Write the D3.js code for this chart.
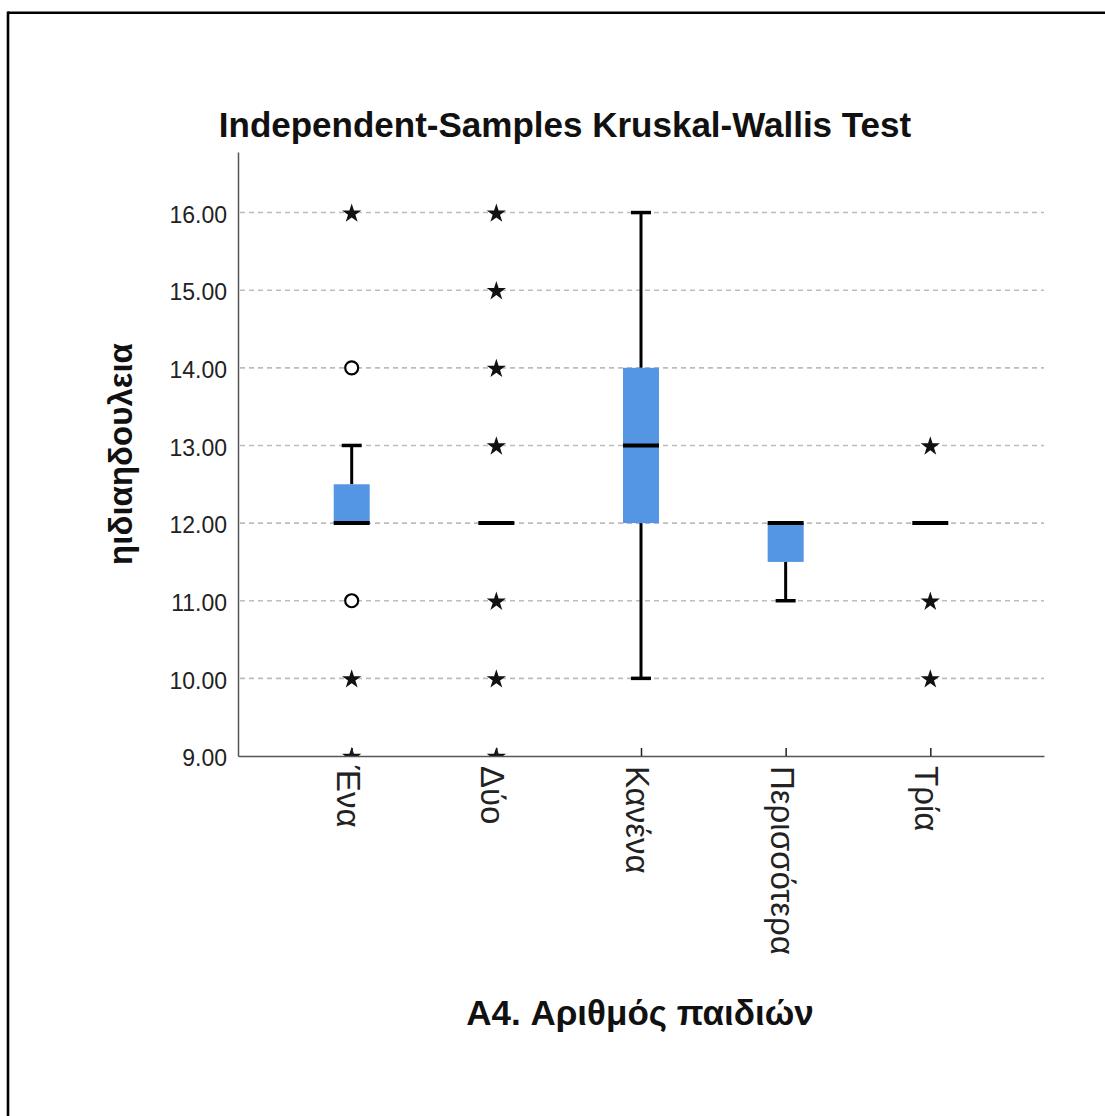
<!DOCTYPE html>
<html>
<head>
<meta charset="utf-8">
<script src="https://cdn.jsdelivr.net/npm/d3@7"></script>
<style>
  html, body { margin: 0; padding: 0; background: #fff; }
  svg { display: block; }
  text { font-family: "Liberation Sans", Arial, sans-serif; }
</style>
</head>
<body>
<script>
// ---- data ----
const categories = ["Ένα", "Δύο", "Κανένα", "Περισσότερα", "Τρία"];
const q1 = [12, 12, 12, 11.5, 12];
const medians = [12, 12, 13, 12, 12];
const q3 = [12.5, 12, 14, 12, 12];
const whiskerLow = [12, 12, 10, 11, 12];
const whiskerHigh = [13, 12, 16, 12, 12];
const outliers = [[14, 11], [], [], [], []];          // circles
const extremes = [[16, 10, 9], [16, 15, 14, 13, 11, 10, 9], [], [], [13, 11, 10]]; // stars
const yTicks = [9, 10, 11, 12, 13, 14, 15, 16];
const titleText = "Independent-Samples Kruskal-Wallis Test";
const yTitle = "ηιδιαηδουλεια";
const xTitle = "A4. Αριθμός παιδιών";

// ---- layout ----
const W = 1105, H = 1116;
const pLeft = 238, pRight = 1044, pTop = 152, pBottom = 756;

const svg = d3.select("body").append("svg").attr("width", W).attr("height", H);

// frame
svg.append("line").attr("x1", 8).attr("x2", W).attr("y1", 12.7).attr("y2", 12.7)
  .attr("stroke", "#000").attr("stroke-width", 2.6);
svg.append("line").attr("x1", 8).attr("x2", 8).attr("y1", 11.4).attr("y2", H)
  .attr("stroke", "#000").attr("stroke-width", 2.6);

const x = d3.scalePoint().domain(categories).range([pLeft, pRight]).padding(0.786);
const y = d3.scaleLinear().domain([9, 16.78]).range([pBottom, pTop]);

// gridlines
svg.append("g").selectAll("line").data(yTicks.filter(d => d > 9)).join("line")
  .attr("x1", pLeft + 2).attr("x2", pRight).attr("y1", d => y(d)).attr("y2", d => y(d))
  .attr("stroke", "#bdbdbd").attr("stroke-width", 1.6).attr("stroke-dasharray", "5,4");

// clip
svg.append("defs").append("clipPath").attr("id", "plotclip")
  .append("rect").attr("x", pLeft).attr("y", pTop - 20).attr("width", pRight - pLeft).attr("height", pBottom - pTop + 20);

const plot = svg.append("g").attr("clip-path", "url(#plotclip)");
const boxW = 36, capW = 20, boxColor = "#5596e4";

categories.forEach((c, i) => {
  const cx = x(c);
  const g = plot.append("g");
  // whiskers
  if (whiskerHigh[i] > q3[i]) {
    g.append("line").attr("x1", cx).attr("x2", cx).attr("y1", y(q3[i])).attr("y2", y(whiskerHigh[i]))
      .attr("stroke", "#000").attr("stroke-width", 3);
    g.append("line").attr("x1", cx - capW / 2).attr("x2", cx + capW / 2)
      .attr("y1", y(whiskerHigh[i])).attr("y2", y(whiskerHigh[i]))
      .attr("stroke", "#000").attr("stroke-width", 3.5);
  }
  if (whiskerLow[i] < q1[i]) {
    g.append("line").attr("x1", cx).attr("x2", cx).attr("y1", y(q1[i])).attr("y2", y(whiskerLow[i]))
      .attr("stroke", "#000").attr("stroke-width", 3);
    g.append("line").attr("x1", cx - capW / 2).attr("x2", cx + capW / 2)
      .attr("y1", y(whiskerLow[i])).attr("y2", y(whiskerLow[i]))
      .attr("stroke", "#000").attr("stroke-width", 3.5);
  }
  // box
  if (q3[i] > q1[i]) {
    g.append("rect").attr("x", cx - boxW / 2).attr("width", boxW)
      .attr("y", y(q3[i])).attr("height", y(q1[i]) - y(q3[i]))
      .attr("fill", boxColor);
  }
  // median
  g.append("line").attr("x1", cx - boxW / 2).attr("x2", cx + boxW / 2)
    .attr("y1", y(medians[i])).attr("y2", y(medians[i]))
    .attr("stroke", "#000").attr("stroke-width", 4);
  // outliers
  g.selectAll("circle").data(outliers[i]).join("circle")
    .attr("cx", cx).attr("cy", d => y(d)).attr("r", 6.5)
    .attr("fill", "#fff").attr("stroke", "#000").attr("stroke-width", 2.2);
  // extremes
  g.selectAll("path.star").data(extremes[i]).join("path").attr("class", "star")
    .attr("d", d3.symbol(d3.symbolStar, 115)())
    .attr("transform", d => `translate(${cx},${y(d) + 1})`)
    .attr("fill", "#111");
});

// y axis
const yAxis = svg.append("g").attr("transform", `translate(${pLeft},0)`)
  .call(d3.axisLeft(y).tickValues(yTicks).tickFormat(d3.format(".2f")).tickSize(0).tickPadding(11));
yAxis.select(".domain").attr("stroke", "#555").attr("stroke-width", 1.5);
yAxis.selectAll("text").attr("font-size", 23).attr("fill", "#222")
  .attr("font-family", "'Liberation Sans', Arial, sans-serif").attr("dy", "0.42em");

// x axis
const xAxis = svg.append("g").attr("transform", `translate(0,${pBottom})`)
  .call(d3.axisBottom(x).tickSizeInner(-8).tickSizeOuter(0).tickPadding(0));
xAxis.select(".domain").attr("stroke", "#555").attr("stroke-width", 1.5);
xAxis.selectAll(".tick line").attr("stroke", "#222").attr("stroke-width", 1.5);
xAxis.selectAll("text")
  .attr("font-size", 33).attr("fill", "#222")
  .attr("font-family", "'Liberation Sans', Arial, sans-serif")
  .attr("text-anchor", "start")
  .attr("transform", "translate(0,10) rotate(90)")
  .attr("x", 0).attr("y", 0).attr("dy", "0.47em");

// titles
svg.append("text").attr("x", 565).attr("y", 137).attr("text-anchor", "middle")
  .attr("font-size", 35).attr("font-weight", "bold").attr("fill", "#111").text(titleText);
svg.append("text").attr("transform", `translate(132,${(pTop + pBottom) / 2}) rotate(-90)`)
  .attr("text-anchor", "middle").attr("font-size", 33).attr("font-weight", "bold")
  .attr("fill", "#111").text(yTitle);
svg.append("text").attr("x", 640).attr("y", 1025).attr("text-anchor", "middle")
  .attr("font-size", 35).attr("font-weight", "bold").attr("fill", "#111").text(xTitle);
</script>
</body>
</html>
